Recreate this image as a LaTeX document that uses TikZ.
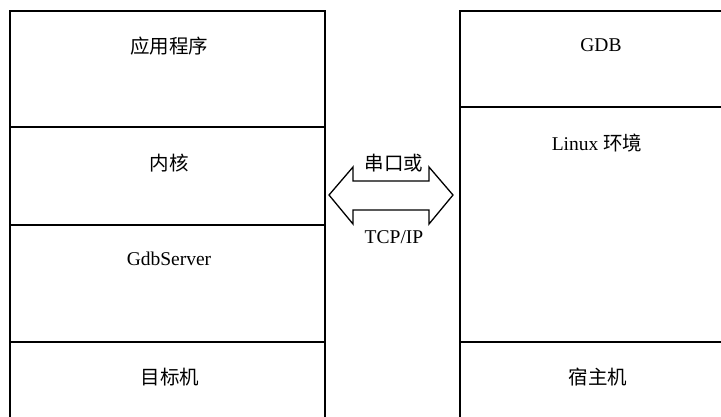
\documentclass[tikz,border=0pt]{standalone}
\usepackage{fontspec}
\setmainfont{Liberation Serif}
\newfontfamily\cjk{Noto Sans CJK SC}
\usetikzlibrary{positioning}

\begin{document}
\begin{tikzpicture}[x=1pt,y=-1pt,
    layer/.style={draw,line width=1.5pt},
    lbl/.style={font=\fontsize{19.5}{21}\selectfont,inner sep=0pt}]
    \useasboundingbox (0,0) rectangle (721,416);
    % target side
    \draw[layer] (10,11) rectangle (325,127);
    \draw[layer] (10,127) rectangle (325,225);
    \draw[layer] (10,225) rectangle (325,342);
    \draw[layer] (10,342) rectangle (325,440);
    \node[lbl] (app) at (169,46) {\cjk 应用程序};
    \node[lbl] (kernel) at (169,163) {\cjk 内核};
    \node[lbl] (gdbserver) at (169,259) {GdbServer};
    \node[lbl] (target) at (170,377) {\cjk 目标机};
    % host side
    \draw[layer] (460,11) rectangle (745,107);
    \draw[layer] (460,107) rectangle (745,342);
    \draw[layer] (460,342) rectangle (745,440);
    \node[lbl] (gdb) at (601,45) {GDB};
    \node[lbl] (linux) at (597,143) {Linux {\cjk 环境}};
    \node[lbl] (host) at (598,377) {\cjk 宿主机};
    % link between the two
    \draw[line width=1.3pt,line join=miter] (329,195) -- (353,167) -- (353,181) -- (429,181) -- (429,167)
        -- (453,195) -- (429,224) -- (429,210) -- (353,210) -- (353,224) -- cycle;
    \node[lbl] (serial) at (394,163) {\cjk 串口或};
    \node[lbl] (tcpip) at (394,237) {TCP/IP};
\end{tikzpicture}
\end{document}
